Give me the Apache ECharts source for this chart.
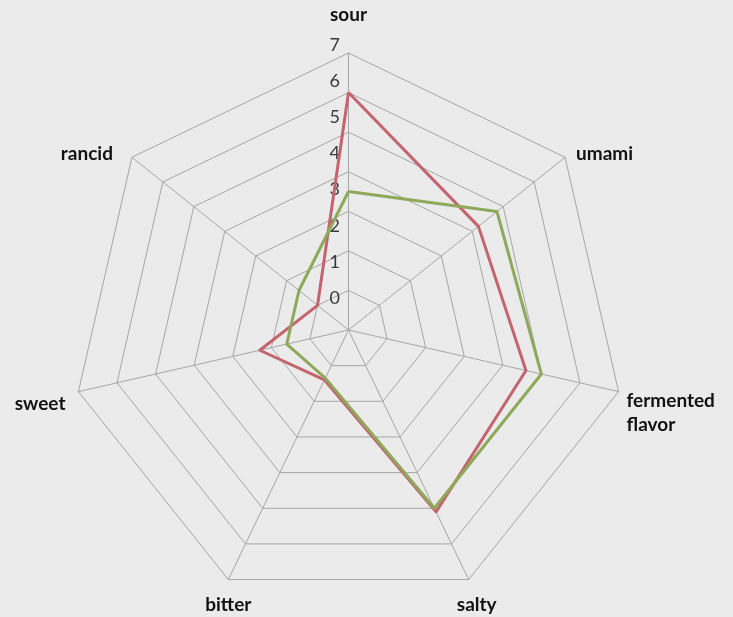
<!DOCTYPE html>
<html>
<head>
<meta charset="utf-8">
<script src="https://cdn.jsdelivr.net/npm/echarts@6/dist/echarts.min.js"></script>
<style>
  html, body { margin: 0; padding: 0; background: #ebebeb; }
  #chart { width: 733px; height: 617px; }
</style>
</head>
<body>
<div id="chart"></div>
<script>
// Flavour attributes, listed clockwise starting from the top
const attributes = ['sour', 'umami', 'fermented\nflavor', 'salty', 'bitter', 'sweet', 'rancid'];
const seriesOne = [6.0, 4.2, 4.6, 5.1, 1.4, 2.3, 1.0];
const seriesTwo = [3.5, 4.8, 5.0, 5.0, 1.35, 1.6, 1.6];
const scaleTicks = [0, 1, 2, 3, 4, 5, 6, 7];
const scaleMax = 7;

// ECharts lays radar indicators out counter-clockwise, so walk the list backwards after the first
const order = [0, 6, 5, 4, 3, 2, 1];
const reorder = arr => order.map(i => arr[i]);

// Placement of each attribute name relative to its outer vertex
const nameStyle = [
  { dx: 0,   dy: -38, align: 'center', va: 'middle' },
  { dx: 11,  dy: -3,  align: 'left',   va: 'middle' },
  { dx: 8,   dy: -3,  align: 'left',   va: 'top' },
  { dx: 8,   dy: 25,  align: 'center', va: 'middle' },
  { dx: 0,   dy: 25,  align: 'center', va: 'middle' },
  { dx: -13, dy: 12,  align: 'right',  va: 'middle' },
  { dx: -19, dy: -3,  align: 'right',  va: 'middle' }
];

const gridColor = '#a6a6a6';
const chart = echarts.init(document.getElementById('chart'), null, { renderer: 'canvas' });

chart.setOption({
  backgroundColor: '#ebebeb',
  animation: false,
  radar: {
    center: [348.5, 330],
    radius: 277,
    startAngle: 90,
    splitNumber: 7,
    shape: 'polygon',
    indicator: reorder(attributes).map(n => ({ name: n, min: 0, max: scaleMax })),
    axisName: { show: false },
    axisLine: { lineStyle: { color: gridColor, width: 1 } },
    splitLine: { lineStyle: { color: gridColor, width: 1 } },
    splitArea: { show: false },
    axisTick: { show: false },
    axisLabel: { show: false }
  },
  // Value scale printed beside the sour axis
  grid: { left: 348, top: 45, width: 1, height: 253 },
  xAxis: { type: 'value', show: false },
  yAxis: {
    type: 'value',
    min: scaleTicks[0],
    max: scaleTicks[scaleTicks.length - 1],
    interval: 1,
    axisLine: { show: false },
    axisTick: { show: false },
    splitLine: { show: false },
    axisLabel: { margin: 8, fontSize: 18, color: '#3a3a3a', fontFamily: 'Lato' }
  },
  series: [{
    type: 'radar',
    symbol: 'none',
    data: [
      { name: 'Series 1', value: reorder(seriesOne),
        lineStyle: { color: '#c4646e', width: 3 } },
      { name: 'Series 2', value: reorder(seriesTwo),
        lineStyle: { color: '#8fa95b', width: 3 } }
    ]
  }]
});

// Attribute names placed at the outer vertices reported by the radar coordinate system
const radarCS = chart.getModel().getComponent('radar').coordinateSystem;
const labels = attributes.map((name, i) => {
  const p = radarCS.dataToPoint(scaleMax, order.indexOf(i));
  const s = nameStyle[i];
  return {
    type: 'text',
    x: p[0] + s.dx,
    y: p[1] + s.dy,
    style: {
      text: name,
      align: s.align,
      verticalAlign: s.va,
      fontFamily: 'Lato',
      fontWeight: 'bold',
      fontSize: 19,
      lineHeight: 24,
      fill: '#111'
    }
  };
});
chart.setOption({ graphic: labels });
</script>
</body>
</html>
